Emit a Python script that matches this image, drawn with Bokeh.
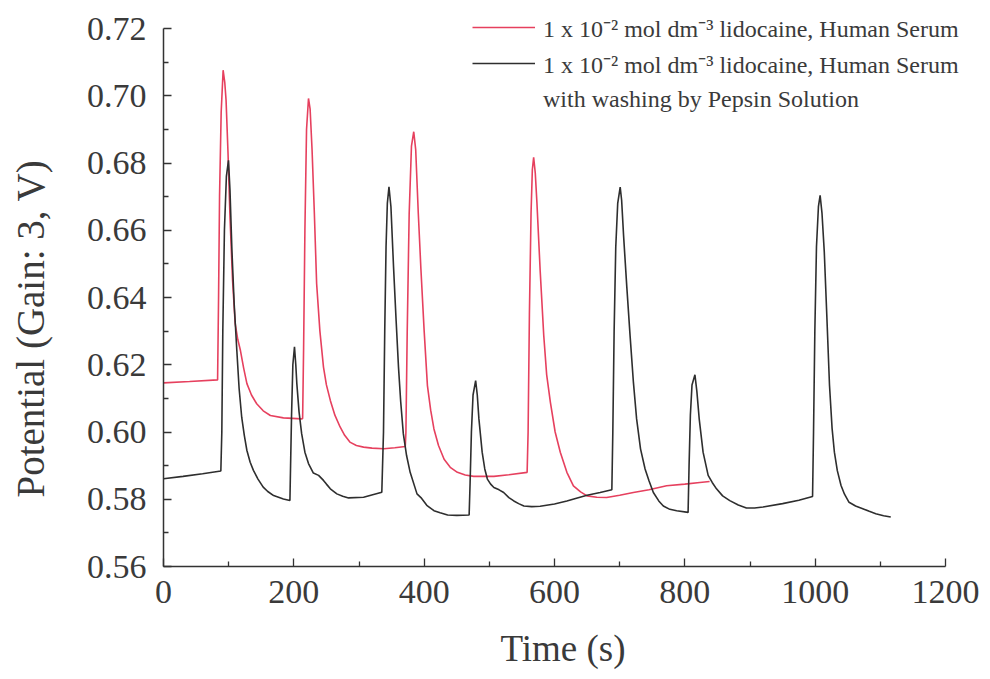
from bokeh.plotting import figure
from bokeh.models import Legend, LegendItem, FixedTicker, PrintfTickFormatter, Range1d, Title
from bokeh.embed import file_html
from bokeh.resources import INLINE

# ---------------- data ----------------
red_time = [0, 40, 83, 84.5, 86, 88.5, 91.5, 94, 96, 99, 102, 106, 110, 114, 118, 123, 128, 135, 143, 153, 164, 184, 212,
            213.5, 215, 217, 219.5, 222.5, 225, 228, 231.5, 235, 240, 245.5, 250, 256, 263, 271, 278, 286, 296, 307, 320, 338, 355, 371,
            372, 374, 377, 380.5, 384, 387, 391, 395, 400, 405, 410, 415, 422, 430.6, 440, 451, 463, 476, 507, 530, 558,
            559.5, 561.5, 564, 566, 568, 570.5, 573, 578, 583.5, 588, 593.7, 601, 609, 619, 629, 640, 650, 665, 680, 700, 721, 745, 772, 800, 823, 838]
red_potential = [0.6146, 0.6150, 0.6155, 0.640, 0.670, 0.695, 0.7076, 0.7040, 0.6987, 0.683, 0.664, 0.645, 0.6322, 0.6275, 0.6243, 0.619, 0.6144, 0.611, 0.6084, 0.6063, 0.6049, 0.6042, 0.6039,
                 0.604, 0.625, 0.660, 0.690, 0.6992, 0.696, 0.6838, 0.665, 0.6441, 0.630, 0.6193, 0.614, 0.6094, 0.605, 0.6015, 0.599, 0.597, 0.5960, 0.5955, 0.5952, 0.5950, 0.5953, 0.5957,
                 0.600, 0.630, 0.665, 0.685, 0.6893, 0.684, 0.665, 0.6485, 0.630, 0.6138, 0.6065, 0.6009, 0.596, 0.5919, 0.5895, 0.5880, 0.5872, 0.5868, 0.5868, 0.5873, 0.5880,
                 0.600, 0.635, 0.665, 0.678, 0.6817, 0.677, 0.6683, 0.648, 0.6287, 0.617, 0.6088, 0.600, 0.5939, 0.588, 0.584, 0.5822, 0.5810, 0.5806, 0.5805, 0.5812, 0.5820, 0.5828, 0.5840, 0.5845, 0.5850, 0.5853]

black_time = [0, 30, 60, 88, 89.5, 91, 93.5, 96.5, 99.7, 102, 105, 108.5, 112.5, 116, 120, 124, 128, 133, 138, 145, 153, 160, 169, 184, 194,
              195, 196.5, 198.5, 201, 203, 204.6, 208, 212, 217, 222.5, 230, 238, 245.5, 250, 256, 266, 275, 284, 307, 335,
              337.6, 339.5, 341.5, 343.5, 346, 349, 353, 357, 360.6, 364, 368, 373, 378.5, 389, 395, 404, 415, 424.5, 436, 450, 469,
              470.5, 472.5, 475, 479, 481.5, 484, 489, 493, 497, 502, 507, 515, 522, 530, 537.6, 545, 553, 565, 578, 600, 619, 635, 650, 670, 688,
              689.5, 691.5, 694, 697, 700.8, 703, 706, 711, 716, 721, 726, 732, 739, 745, 751.7, 760, 767, 777, 787.5, 805,
              806.5, 808.5, 811, 815.5, 818.5, 822, 828, 835.8, 842, 848.6, 858, 869, 882, 894.5, 907, 920, 950, 975, 996,
              997.5, 999.5, 1002, 1005, 1007.6, 1010.5, 1014, 1018, 1022, 1026, 1029.5, 1034, 1039.7, 1045, 1052, 1062, 1073, 1083, 1093, 1105, 1116]
black_potential = [0.5861, 0.5868, 0.5876, 0.5884, 0.600, 0.630, 0.660, 0.676, 0.6808, 0.672, 0.654, 0.638, 0.6243, 0.613, 0.6044, 0.599, 0.5945, 0.591, 0.5886, 0.586, 0.5836, 0.5823, 0.5811, 0.5801, 0.5796,
                   0.590, 0.605, 0.620, 0.6253, 0.620, 0.6144, 0.606, 0.5995, 0.594, 0.5906, 0.5878, 0.5871, 0.5856, 0.5845, 0.5831, 0.5816, 0.5809, 0.5804, 0.5806, 0.5821,
                   0.600, 0.630, 0.655, 0.668, 0.6729, 0.667, 0.6491, 0.633, 0.6193, 0.609, 0.5995, 0.593, 0.588, 0.5816, 0.5805, 0.5782, 0.5766, 0.5760, 0.5753, 0.5752, 0.5753,
                   0.585, 0.600, 0.611, 0.6153, 0.611, 0.6039, 0.594, 0.589, 0.586, 0.5845, 0.5835, 0.5828, 0.5820, 0.5805, 0.5795, 0.5787, 0.5780, 0.5778, 0.5779, 0.5786, 0.5795, 0.5804, 0.5812, 0.5820, 0.5828,
                   0.600, 0.630, 0.655, 0.668, 0.6728, 0.669, 0.6584, 0.643, 0.6286, 0.615, 0.6039, 0.595, 0.589, 0.5855, 0.582, 0.5795, 0.578, 0.577, 0.5766, 0.5761,
                   0.590, 0.605, 0.614, 0.617, 0.612, 0.604, 0.594, 0.5871, 0.585, 0.5831, 0.581, 0.5796, 0.5783, 0.5774, 0.5774, 0.5777, 0.5787, 0.5797, 0.5808,
                   0.600, 0.630, 0.655, 0.667, 0.6704, 0.665, 0.6535, 0.634, 0.6139, 0.601, 0.594, 0.5885, 0.5841, 0.5815, 0.5791, 0.5780, 0.5772, 0.5764, 0.5757, 0.5751, 0.5747]

x_ticks = [0, 200, 400, 600, 800, 1000, 1200]
x_minor_ticks = [100, 300, 500, 700, 900, 1100]
y_ticks = [0.56, 0.58, 0.60, 0.62, 0.64, 0.66, 0.68, 0.70, 0.72]
y_minor_ticks = [0.57, 0.59, 0.61, 0.63, 0.65, 0.67, 0.69, 0.71]
x_bounds = (0, 1200)
y_bounds = (0.56, 0.72)

legend_labels = ["1 x 10\u207b\u00b2 mol dm\u207b\u00b3 lidocaine, Human Serum",
                 "1 x 10\u207b\u00b2 mol dm\u207b\u00b3 lidocaine, Human Serum",
                 "with washing by Pepsin Solution"]
x_title = "Time (s)"
y_title = "Potential (Gain: 3, V)"

# ---------------- layout (pixels) ----------------
W, H = 990, 679
LEFT, RIGHT_BORDER, TOP_BORDER, BOTTOM = 163, 28, 8, 113
AX_RIGHT_PX = 945      # pixel of x = 1200
AX_TOP_PX = 28         # pixel of y = 0.72
frame_w = W - LEFT - RIGHT_BORDER
frame_h = H - TOP_BORDER - BOTTOM
x_end = x_bounds[0] + (x_bounds[1] - x_bounds[0]) * frame_w / (AX_RIGHT_PX - LEFT)
y_end = y_bounds[0] + (y_bounds[1] - y_bounds[0]) * frame_h / (H - BOTTOM - AX_TOP_PX)

FONT = "Liberation Serif"
TEXT_COLOR = "#3a3a3a"
RED = "#e6405e"
BLACK = "#2e2e2e"

p = figure(width=W, height=H, output_backend="svg", toolbar_location=None,
           x_range=Range1d(x_bounds[0], x_end), y_range=Range1d(y_bounds[0], y_end),
           min_border_left=LEFT, min_border_right=RIGHT_BORDER,
           min_border_top=TOP_BORDER, min_border_bottom=BOTTOM)
p.outline_line_color = None
p.xgrid.visible = False
p.ygrid.visible = False
p.background_fill_color = "white"
p.border_fill_color = "white"

r_red = p.line(red_time, red_potential, line_color=RED, line_width=1.6)
r_black = p.line(black_time, black_potential, line_color=BLACK, line_width=1.6)
dummy = p.line([], [], line_alpha=0)

p.xaxis.ticker = FixedTicker(ticks=x_ticks, minor_ticks=x_minor_ticks)
p.yaxis.ticker = FixedTicker(ticks=y_ticks, minor_ticks=y_minor_ticks)
p.yaxis.formatter = PrintfTickFormatter(format="%.2f")
p.xaxis.bounds = x_bounds
p.yaxis.bounds = y_bounds

for ax in (p.xaxis, p.yaxis):
    ax.axis_line_color = "#333333"
    ax.axis_line_width = 1.5
    ax.major_tick_line_color = "#333333"
    ax.minor_tick_line_color = "#333333"
    ax.major_tick_line_width = 1.3
    ax.minor_tick_line_width = 1.3
    ax.major_tick_in = 8
    ax.major_tick_out = 0
    ax.minor_tick_in = 5
    ax.minor_tick_out = 0
    ax.major_label_text_font = FONT
    ax.major_label_text_color = TEXT_COLOR
    ax.axis_label_text_font = FONT
    ax.axis_label_text_color = TEXT_COLOR
    ax.axis_label_text_font_style = "normal"
    ax.axis_label_text_font_size = "37px"

p.xaxis.major_label_text_font_size = "34px"
p.yaxis.major_label_text_font_size = "34px"
p.xaxis.major_label_standoff = 14
p.yaxis.major_label_standoff = 17
p.xaxis.axis_label = x_title
p.xaxis.axis_label_standoff = 22

# blank y-axis label used only as spacing between the tick labels and the title
p.yaxis.axis_label = " "
p.yaxis.axis_label_text_font_size = "1px"
p.yaxis.axis_label_standoff = 18

ytitle = Title(text=y_title, align="left", vertical_align="top", offset=69,
               text_font=FONT, text_font_size="39px", text_font_style="normal",
               text_color=TEXT_COLOR)
if "standoff" in ytitle.properties():
    ytitle.standoff = 16
p.add_layout(ytitle, "left")

legend = Legend(items=[LegendItem(label=legend_labels[0], renderers=[r_red]),
                       LegendItem(label=legend_labels[1], renderers=[r_black]),
                       LegendItem(label=legend_labels[2], renderers=[dummy])],
                location=(472 - LEFT, 449), orientation="vertical",
                glyph_width=63, glyph_height=36, label_height=36, label_standoff=8,
                spacing=0, padding=0, margin=0,
                border_line_alpha=0, background_fill_alpha=0,
                label_text_font=FONT, label_text_font_size="24px", label_text_color=TEXT_COLOR)
p.add_layout(legend)

open("out.html", "w").write(file_html(p, INLINE))
